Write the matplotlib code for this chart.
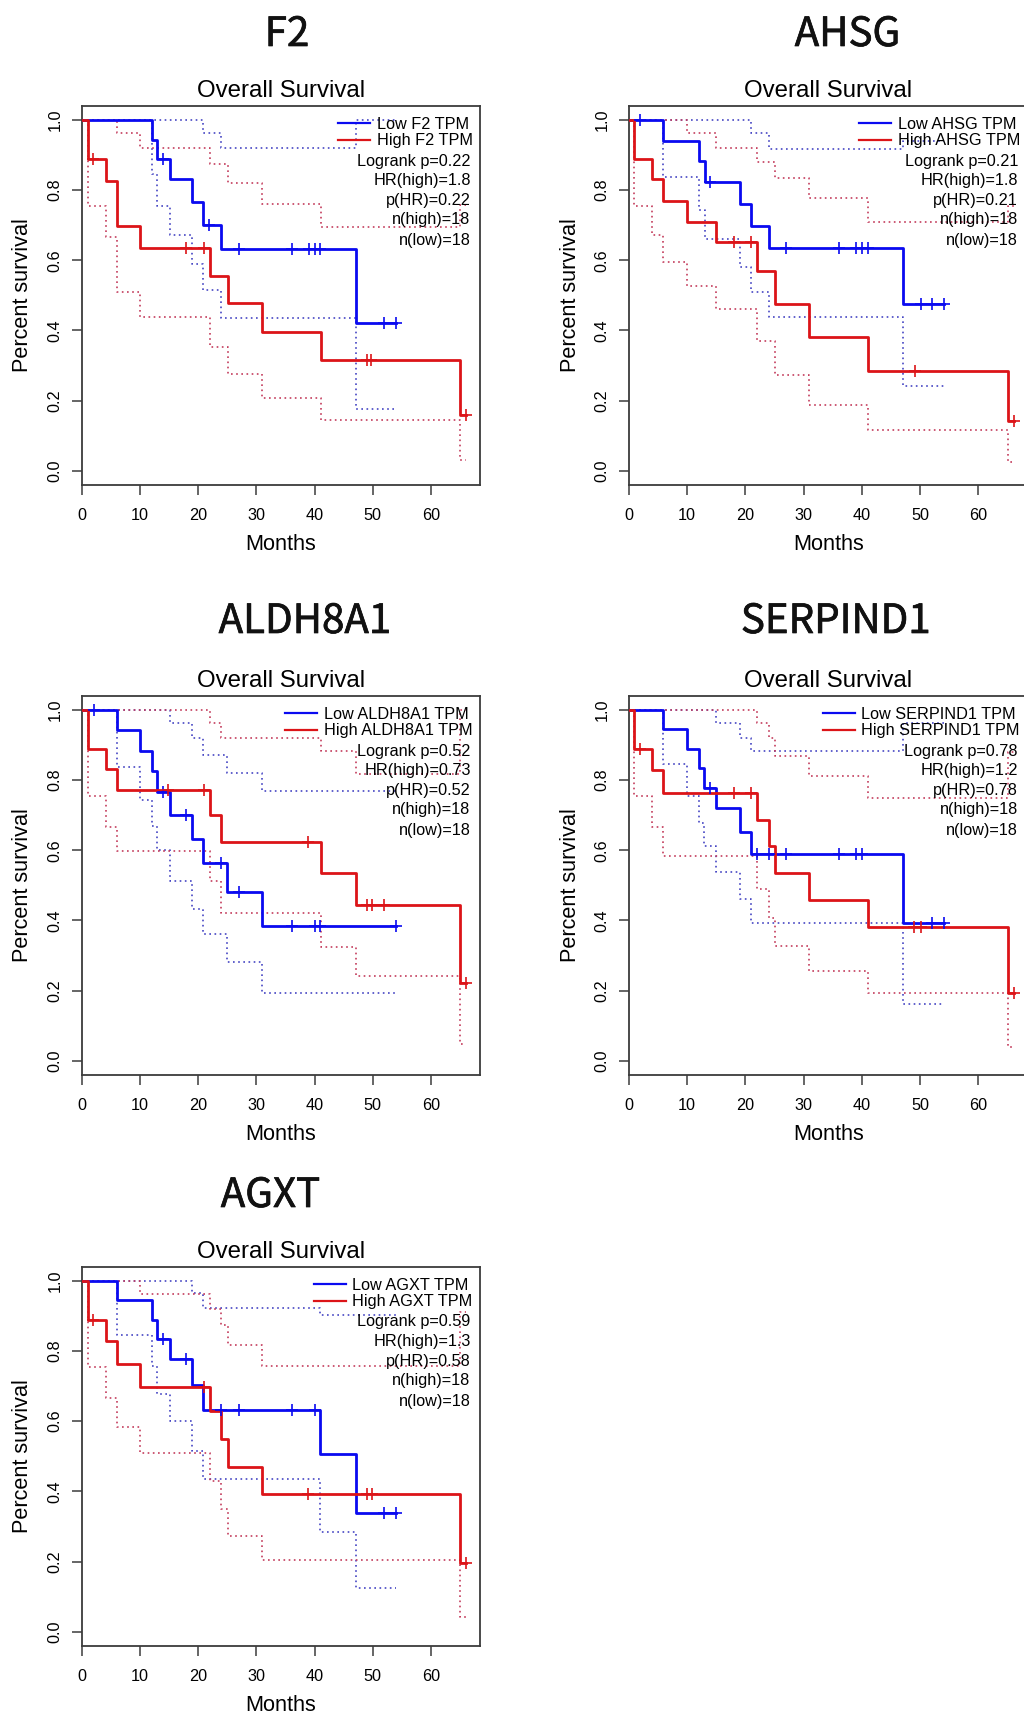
import matplotlib
matplotlib.use("Agg")
import matplotlib.pyplot as plt
import matplotlib.patheffects as pe
from matplotlib.lines import Line2D

# ---------------- data ----------------
GENES = ["F2", "AHSG", "ALDH8A1", "SERPIND1", "AGXT"]
LOGRANK_P = ["0.22", "0.21", "0.52", "0.78", "0.59"]
HR_HIGH = ["1.8", "1.8", "0.73", "1.2", "1.3"]
P_HR = ["0.22", "0.21", "0.52", "0.78", "0.58"]
N_HIGH = [18, 18, 18, 18, 18]
N_LOW = [18, 18, 18, 18, 18]
X_TICKS = [0, 10, 20, 30, 40, 50, 60]
Y_TICKS = [0.0, 0.2, 0.4, 0.6, 0.8, 1.0]

# steps: (month, survival after the drop); curves start at 1.0 at month 0
F2_LOW = [(12.0, .944), (12.9, .889), (15.1, .831), (19.0, .765), (20.9, .702), (23.9, .631), (47.1, .420)]
F2_LOW_END = 54.0
F2_LOW_CENS = [14.0, 21.9, 27.0, 36.1, 39.1, 40.0, 41.0, 52.0, 54.0]
F2_LOW_UP = [(20.9, .964), (23.9, .919), (47.1, 1.0)]
F2_LOW_LO = [(12.0, .845), (12.9, .755), (15.1, .672), (19.0, .589), (20.9, .515), (23.9, .434), (47.1, .175)]
F2_HIGH = [(1.0, .889), (4.1, .827), (6.0, .699), (10.0, .636), (22.1, .556), (25.1, .477), (31.0, .396), (41.1, .317), (65.0, .159)]
F2_HIGH_END = 66.0
F2_HIGH_CENS = [2.0, 18.0, 21.0, 49.0, 49.7, 66.0]
F2_HIGH_UP = [(6.0, .962), (10.0, .919), (22.1, .874), (25.1, .819), (31.0, .760), (41.1, .696), (65.0, .757)]
F2_HIGH_LO = [(1.0, .755), (4.1, .667), (6.0, .510), (10.0, .439), (22.1, .354), (25.1, .276), (31.0, .206), (41.1, .144), (65.0, .030)]

AHSG_LOW = [(5.9, .941), (12.0, .883), (13.0, .824), (19.0, .760), (21.0, .698), (24.0, .634), (47.0, .475)]
AHSG_LOW_END = 54.1
AHSG_LOW_CENS = [1.9, 14.0, 27.0, 36.0, 39.0, 40.0, 41.0, 50.1, 52.1, 54.1]
AHSG_LOW_UP = [(21.0, .962), (24.0, .917), (47.0, .940)]
AHSG_LOW_LO = [(5.9, .837), (12.0, .743), (13.0, .661), (19.0, .580), (21.0, .509), (24.0, .437), (47.0, .242)]
AHSG_HIGH = [(0.9, .889), (3.9, .831), (5.9, .770), (9.9, .710), (14.9, .651), (22.0, .570), (25.1, .475), (31.0, .380), (41.1, .284), (65.1, .143)]
AHSG_HIGH_END = 66.1
AHSG_HIGH_CENS = [18.0, 21.0, 49.1, 66.1]
AHSG_HIGH_UP = [(9.9, .962), (14.9, .921), (22.0, .880), (25.1, .836), (31.0, .777), (41.1, .708), (65.1, .755)]
AHSG_HIGH_LO = [(0.9, .755), (3.9, .671), (5.9, .595), (9.9, .527), (14.9, .462), (22.0, .371), (25.1, .273), (31.0, .187), (41.1, .116), (65.1, .026)]

ALDH8A1_LOW = [(6.0, .943), (10.0, .884), (12.0, .826), (13.0, .765), (15.1, .702), (19.0, .631), (20.9, .563), (24.9, .482), (31.0, .385)]
ALDH8A1_LOW_END = 54.0
ALDH8A1_LOW_CENS = [2.1, 14.0, 18.0, 23.9, 27.0, 36.1, 40.0, 41.0, 54.0]
ALDH8A1_LOW_UP = [(15.1, .963), (19.0, .919), (20.9, .872), (24.9, .819), (31.0, .770)]
ALDH8A1_LOW_LO = [(6.0, .837), (10.0, .743), (12.0, .670), (13.0, .600), (15.1, .513), (19.0, .433), (20.9, .361), (24.9, .281), (31.0, .194)]
ALDH8A1_HIGH = [(1.0, .889), (4.1, .831), (6.0, .772), (22.1, .701), (23.9, .623), (41.1, .534), (47.1, .444), (65.0, .222)]
ALDH8A1_HIGH_END = 66.0
ALDH8A1_HIGH_CENS = [14.9, 21.0, 38.9, 49.0, 49.9, 52.0, 66.0]
ALDH8A1_HIGH_UP = [(22.1, .963), (23.9, .921), (41.1, .882), (47.1, .818), (65.0, 1.0)]
ALDH8A1_HIGH_LO = [(1.0, .755), (4.1, .667), (6.0, .597), (22.1, .513), (23.9, .420), (41.1, .325), (47.1, .242), (65.0, .048)]

SERPIND1_LOW = [(5.9, .945), (9.9, .890), (12.0, .836), (12.9, .779), (14.9, .720), (19.0, .653), (21.0, .589), (47.0, .392)]
SERPIND1_LOW_END = 54.1
SERPIND1_LOW_CENS = [14.0, 22.0, 24.0, 27.0, 36.0, 39.0, 40.0, 52.1, 54.1]
SERPIND1_LOW_UP = [(14.9, .963), (19.0, .921), (21.0, .883), (47.0, .962)]
SERPIND1_LOW_LO = [(5.9, .845), (9.9, .756), (12.0, .677), (12.9, .613), (14.9, .537), (19.0, .460), (21.0, .392), (47.0, .161)]
SERPIND1_HIGH = [(0.9, .889), (3.9, .829), (5.9, .762), (22.0, .686), (24.0, .612), (25.1, .536), (31.0, .458), (41.1, .382), (65.1, .192)]
SERPIND1_HIGH_END = 66.1
SERPIND1_HIGH_CENS = [1.9, 18.0, 21.0, 49.0, 50.1, 66.1]
SERPIND1_HIGH_UP = [(22.0, .962), (24.0, .921), (25.1, .869), (31.0, .812), (41.1, .750), (65.1, .881)]
SERPIND1_HIGH_LO = [(0.9, .755), (3.9, .665), (5.9, .584), (22.0, .490), (24.0, .406), (25.1, .328), (31.0, .257), (41.1, .194), (65.1, .040)]

AGXT_LOW = [(6.0, .945), (12.0, .889), (13.0, .834), (15.1, .776), (19.0, .704), (20.9, .633), (41.0, .507), (47.1, .337)]
AGXT_LOW_END = 54.0
AGXT_LOW_CENS = [14.0, 18.0, 23.9, 27.0, 36.1, 40.0, 52.0, 54.0]
AGXT_LOW_UP = [(19.0, .964), (20.9, .921), (41.0, .902)]
AGXT_LOW_LO = [(6.0, .845), (12.0, .757), (13.0, .677), (15.1, .601), (19.0, .515), (20.9, .434), (41.0, .283), (47.1, .125)]
AGXT_HIGH = [(1.0, .889), (4.1, .827), (6.0, .762), (10.0, .698), (22.1, .630), (23.9, .549), (25.1, .470), (31.0, .392), (65.0, .197)]
AGXT_HIGH_END = 66.0
AGXT_HIGH_CENS = [2.0, 21.0, 38.9, 49.0, 49.9, 66.0]
AGXT_HIGH_UP = [(10.0, .962), (22.1, .918), (23.9, .874), (25.1, .817), (31.0, .758), (65.0, .910)]
AGXT_HIGH_LO = [(1.0, .755), (4.1, .667), (6.0, .584), (10.0, .510), (22.1, .429), (23.9, .349), (25.1, .273), (31.0, .204), (65.0, .043)]

# ---------------- layout / style ----------------
W, H, DPI = 1024, 1714, 100
BASE = "Liberation Sans"
TITLE_FONT = ["Noto Sans CJK SC", "DejaVu Sans"]
BLUE, RED = "#0a0af0", "#dc1418"
BLUE_CI, RED_CI = "#4646c4", "#c43c5c"
AX_COL = "#3c3c3c"
COL_L = [81.7, 629.0]
ROW_Y = [(120.0, 470.7), (710.0, 1060.7), (1280.7, 1631.7)]
XMAX = 68.5
PX_PER_MONTH = 5.82
GENE_POS = [(287, 46), (847.5, 46), (305, 633), (836, 633), (270.5, 1207)]
PANEL_CELL = [(0, 0), (1, 0), (0, 1), (1, 1), (0, 2)]

plt.rcParams["font.family"] = [BASE, "DejaVu Sans"]
fig = plt.figure(figsize=(W / DPI, H / DPI), dpi=DPI)
fig.patch.set_facecolor("white")
renderer = fig.canvas.get_renderer()


def ftext(x, y, s, **kw):
    return fig.text(x / W, 1 - y / H, s, **kw)


def fline(x0, x1, y, **kw):
    fig.add_artist(Line2D([x0 / W, x1 / W], [1 - y / H, 1 - y / H], transform=fig.transFigure, **kw))


def step_xy(steps, end):
    t = [0.0] + [a for a, _ in steps] + [end]
    s = [1.0] + [b for _, b in steps] + [steps[-1][1]]
    return t, s


def surv_at(steps, t):
    v = 1.0
    for a, b in steps:
        if a <= t:
            v = b
    return v


DATA = {
    "F2": (F2_LOW, F2_LOW_END, F2_LOW_CENS, F2_LOW_UP, F2_LOW_LO, F2_HIGH, F2_HIGH_END, F2_HIGH_CENS, F2_HIGH_UP, F2_HIGH_LO),
    "AHSG": (AHSG_LOW, AHSG_LOW_END, AHSG_LOW_CENS, AHSG_LOW_UP, AHSG_LOW_LO, AHSG_HIGH, AHSG_HIGH_END, AHSG_HIGH_CENS, AHSG_HIGH_UP, AHSG_HIGH_LO),
    "ALDH8A1": (ALDH8A1_LOW, ALDH8A1_LOW_END, ALDH8A1_LOW_CENS, ALDH8A1_LOW_UP, ALDH8A1_LOW_LO, ALDH8A1_HIGH, ALDH8A1_HIGH_END, ALDH8A1_HIGH_CENS, ALDH8A1_HIGH_UP, ALDH8A1_HIGH_LO),
    "SERPIND1": (SERPIND1_LOW, SERPIND1_LOW_END, SERPIND1_LOW_CENS, SERPIND1_LOW_UP, SERPIND1_LOW_LO, SERPIND1_HIGH, SERPIND1_HIGH_END, SERPIND1_HIGH_CENS, SERPIND1_HIGH_UP, SERPIND1_HIGH_LO),
    "AGXT": (AGXT_LOW, AGXT_LOW_END, AGXT_LOW_CENS, AGXT_LOW_UP, AGXT_LOW_LO, AGXT_HIGH, AGXT_HIGH_END, AGXT_HIGH_CENS, AGXT_HIGH_UP, AGXT_HIGH_LO),
}

for i, gene in enumerate(GENES):
    col, row = PANEL_CELL[i]
    L = COL_L[col]
    y1, y0 = ROW_Y[row]
    unit = y0 - y1
    top = y1 - 0.04 * unit
    bot = y0 + 0.04 * unit
    wpx = XMAX * PX_PER_MONTH
    R = L + wpx
    ax = fig.add_axes([L / W, 1 - bot / H, wpx / W, (bot - top) / H])
    ax.set_xlim(0, XMAX)
    ax.set_ylim(-0.04, 1.04)

    (lo, lo_end, lo_c, lo_up, lo_lo, hi, hi_end, hi_c, hi_up, hi_lo) = DATA[gene]
    ci_style = dict(where="post", lw=1.2, ls=(0, (1, 2.1)), zorder=2)
    for steps, end, c in [(lo_up, lo_end, BLUE_CI), (lo_lo, lo_end, BLUE_CI),
                          (hi_up, hi_end, RED_CI), (hi_lo, hi_end, RED_CI)]:
        t, s = step_xy(steps, end)
        ax.step(t, s, color=c, **ci_style)
    for steps, end, cens, c in [(lo, lo_end, lo_c, BLUE), (hi, hi_end, hi_c, RED)]:
        t, s = step_xy(steps, end)
        ax.step(t, s, where="post", color=c, lw=2.0, zorder=3)
        ax.plot(cens, [surv_at(steps, x) for x in cens], ls="none", marker="+",
                ms=8.5, mew=1.2, color=c, zorder=4)

    ax.set_xticks(X_TICKS)
    ax.set_xticklabels([str(v) for v in X_TICKS])
    ax.set_yticks(Y_TICKS)
    ax.set_yticklabels([f"{v:.1f}" for v in Y_TICKS], rotation=90, va="center")
    ax.tick_params(axis="both", direction="out", length=7.2, width=1.1, color=AX_COL,
                   labelsize=11.7, labelcolor="black")
    ax.tick_params(axis="x", pad=9.5)
    ax.tick_params(axis="y", pad=6.6)
    for sp in ax.spines.values():
        sp.set_color(AX_COL)
        sp.set_linewidth(1.3)

    cx = (L + R) / 2
    ftext(cx, top - 8.7, "Overall Survival", ha="center", va="baseline", fontsize=17.3)
    ftext(cx, bot + 65.5, "Months", ha="center", va="baseline", fontsize=15.6)
    ftext(L - 58.7, (y1 + y0) / 2, "Percent survival", ha="center", va="center",
          rotation=90, fontsize=15.6)

    gx, gy = GENE_POS[i]
    ftext(gx, gy, gene, ha="center", va="baseline", fontsize=29, family=TITLE_FONT,
          weight="normal", color="#111111",
          path_effects=[pe.withStroke(linewidth=0.5, foreground="#111111")])

    # legend block (top right, no frame)
    hi_txt = ftext(R - 7.7, top + 39.0, f"High {gene} TPM", ha="left", va="baseline", fontsize=11.7)
    bb = hi_txt.get_window_extent(renderer)
    x0 = R - 7.7 - bb.width
    hi_txt.set_x(x0 / W)
    ftext(x0, top + 23.3, f"Low {gene} TPM", ha="left", va="baseline", fontsize=11.7)
    fline(x0 - 38.7, x0 - 6.7, top + 17.3, color=BLUE, lw=1.6)
    fline(x0 - 38.7, x0 - 6.7, top + 34.0, color=RED, lw=1.6)
    stats = [f"Logrank p={LOGRANK_P[i]}", f"HR(high)={HR_HIGH[i]}", f"p(HR)={P_HR[i]}",
             f"n(high)={N_HIGH[i]}", f"n(low)={N_LOW[i]}"]
    for s, dy in zip(stats, [59.7, 79.0, 99.0, 118.5, 139.0]):
        ftext(R - 9.7, top + dy, s, ha="right", va="baseline", fontsize=11.7)

fig.savefig("out.png", dpi=DPI, facecolor="white")
